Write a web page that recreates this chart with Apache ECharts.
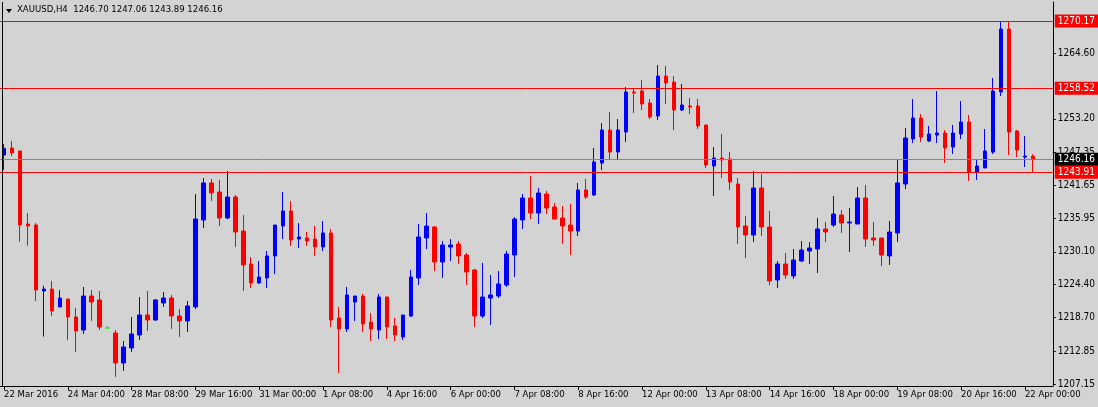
<!DOCTYPE html>
<html>
<head>
<meta charset="utf-8">
<script src="https://cdn.jsdelivr.net/npm/echarts@6/dist/echarts.min.js"></script>
<style>
html,body{margin:0;padding:0;background:#d3d3d3;}
#c{width:1098px;height:407px;}
</style>
</head>
<body>
<div id="c"></div>
<script>
const symbolName = 'XAUUSD,H4';
const tickLabels = ['22 Mar 2016','24 Mar 04:00','28 Mar 08:00','29 Mar 16:00','31 Mar 00:00','1 Apr 08:00','4 Apr 16:00','6 Apr 00:00','7 Apr 08:00','8 Apr 16:00','12 Apr 00:00','13 Apr 08:00','14 Apr 16:00','18 Apr 00:00','19 Apr 08:00','20 Apr 16:00','22 Apr 00:00'];
const priceTicks = [1264.60,1253.20,1247.35,1241.65,1235.95,1230.10,1224.40,1218.70,1212.85,1207.15];
const levelLines = [1270.17,1258.52,1243.91];

const opens = [1246.91,1248.13,1247.61,1234.94,1234.76,1223.31,1223.65,1220.54,1221.92,1218.80,
1216.54,1222.44,1221.75,1216.89,1216.02,1210.81,1213.42,1215.67,1219.14,1218.28,
1221.23,1222.09,1218.97,1218.11,1220.54,1235.63,1242.06,1240.49,1235.98,1239.62,
1233.72,1228.00,1224.70,1225.57,1229.39,1234.59,1237.20,1232.33,1232.51,1232.33,
1230.95,1233.38,1218.62,1216.71,1221.40,1222.44,1217.93,1216.54,1222.27,1217.24,
1215.33,1218.97,1225.57,1232.51,1234.42,1228.34,1230.95,1231.47,1229.56,1226.96,
1218.97,1222.09,1222.44,1224.35,1229.56,1235.63,1239.45,1236.85,1240.14,1237.89,
1235.98,1234.76,1233.72,1240.84,1239.97,1245.52,1251.25,1247.43,1250.90,1257.85,
1258.02,1255.94,1253.68,1260.62,1259.58,1254.72,1255.42,1255.42,1252.12,1245.00,
1246.39,1246.22,1241.88,1234.59,1233.03,1241.19,1234.42,1225.22,1228.00,1225.92,
1228.52,1230.25,1230.60,1234.07,1234.76,1236.50,1235.11,1234.94,1239.45,1232.51,
1232.51,1229.39,1233.38,1241.88,1249.69,1253.34,1249.35,1250.38,1250.73,1248.30,
1250.56,1252.64,1243.96,1244.66,1247.43,1257.85,1268.78,1251.08,1246.57,1246.70];

const closes = [1248.08,1247.26,1234.76,1234.59,1223.48,1223.65,1219.84,1222.09,1218.80,1216.37,
1222.44,1221.40,1217.06,1216.89,1210.81,1213.59,1215.85,1219.14,1218.28,1221.75,
1222.09,1218.97,1218.11,1220.71,1235.80,1242.06,1240.32,1235.98,1239.62,1233.55,
1227.82,1224.70,1225.74,1229.39,1234.76,1237.20,1232.16,1232.68,1231.99,1230.95,
1233.38,1218.28,1216.71,1222.62,1222.44,1217.58,1216.71,1222.27,1217.06,1215.67,
1219.14,1225.74,1232.68,1234.59,1228.34,1231.29,1231.29,1229.39,1226.61,1218.97,
1222.27,1222.62,1224.53,1229.73,1235.80,1239.45,1236.85,1240.32,1237.72,1235.80,
1234.59,1233.72,1240.84,1239.62,1245.70,1251.25,1247.43,1251.25,1257.85,1257.68,
1255.77,1253.51,1260.62,1259.41,1254.72,1255.59,1255.24,1251.95,1245.18,1246.39,
1246.05,1242.23,1234.42,1233.03,1241.19,1234.42,1225.05,1228.00,1226.09,1228.69,
1230.43,1230.77,1234.07,1233.55,1236.67,1235.11,1235.28,1239.45,1232.33,1232.16,
1229.56,1233.55,1242.06,1249.86,1253.34,1250.04,1250.56,1250.73,1248.13,1250.73,
1252.64,1243.96,1245.00,1247.61,1258.02,1268.78,1250.90,1247.78,1246.74,1246.16];

const lows = [1244.31,1246.74,1231.87,1231.17,1221.57,1215.38,1218.97,1220.54,1214.81,1212.72,
1215.85,1218.11,1216.54,1216.71,1208.39,1209.43,1212.72,1214.81,1216.37,1218.11,
1220.54,1216.71,1215.33,1216.19,1220.19,1234.24,1238.93,1234.59,1235.80,1230.95,
1223.31,1223.83,1224.53,1223.83,1226.26,1232.33,1231.12,1230.77,1231.12,1229.39,
1230.25,1217.06,1209.08,1216.19,1218.11,1216.19,1214.63,1214.98,1214.98,1214.63,
1214.81,1218.80,1224.35,1230.60,1226.78,1225.57,1228.52,1228.00,1224.35,1217.06,
1218.62,1217.41,1222.09,1224.01,1225.74,1234.07,1235.80,1234.94,1236.67,1235.80,
1231.47,1229.56,1232.85,1239.28,1239.80,1244.31,1246.05,1246.22,1249.17,1254.20,
1254.72,1253.16,1252.99,1255.77,1251.25,1254.55,1254.03,1251.43,1244.66,1239.80,
1242.92,1240.84,1231.47,1229.04,1231.81,1232.85,1224.35,1223.83,1225.40,1225.40,
1228.34,1228.00,1226.43,1231.81,1234.42,1233.38,1230.08,1234.94,1230.95,1231.12,
1227.65,1227.82,1231.81,1241.01,1248.99,1249.17,1249.17,1248.99,1245.52,1247.09,
1249.69,1242.40,1242.58,1244.66,1247.09,1257.15,1246.91,1246.57,1244.83,1243.89];

const highs = [1248.83,1249.35,1247.61,1236.85,1235.11,1224.23,1225.05,1223.48,1221.92,1220.36,
1224.01,1223.48,1223.31,1217.24,1216.54,1214.63,1218.80,1222.27,1223.31,1221.92,
1223.14,1222.62,1220.19,1221.57,1240.14,1242.92,1242.75,1242.58,1244.14,1239.97,
1236.50,1229.21,1228.52,1230.25,1234.76,1240.49,1238.93,1235.11,1233.55,1234.59,
1235.46,1234.07,1220.54,1224.01,1222.44,1222.79,1219.49,1222.79,1222.27,1218.62,
1219.14,1226.96,1234.94,1236.85,1234.59,1231.99,1232.33,1231.99,1229.91,1227.13,
1228.17,1226.09,1226.78,1230.25,1236.15,1240.14,1243.27,1241.19,1240.67,1238.58,
1238.06,1238.41,1242.06,1242.75,1248.13,1252.47,1254.38,1253.16,1258.71,1258.37,
1259.93,1256.63,1262.53,1262.36,1260.62,1259.24,1256.81,1256.63,1252.12,1248.30,
1250.56,1247.43,1242.92,1236.32,1244.14,1243.62,1237.20,1228.52,1229.91,1230.60,
1231.99,1231.81,1235.98,1235.28,1239.80,1237.37,1237.72,1241.36,1241.71,1235.28,
1232.51,1235.46,1246.22,1251.60,1256.63,1254.03,1251.95,1258.02,1251.25,1252.12,
1256.28,1253.86,1246.22,1251.43,1260.28,1270.10,1270.17,1251.25,1250.21,1247.06];

const N_SLOTS = 132;
const BARS_PER_LABEL = 8;
const categories = [];
for (let i = 0; i < N_SLOTS; i++) categories.push(String(i));

const candleData = opens.map((o, i) => {
  const item = { value: [o, closes[i], lows[i], highs[i]] };
  if (o === closes[i]) {
    item.itemStyle = { color: '#00ff00', color0: '#00ff00', borderColor: '#00ff00', borderColor0: '#00ff00' };
  }
  return item;
});
const last = opens.length - 1;
const bid = closes[last];
const headerText = symbolName + '  ' + [opens[last], highs[last], lows[last], closes[last]].map(v => v.toFixed(2)).join(' ');

const FONT = "Tahoma, 'DejaVu Sans Condensed', 'Liberation Sans', sans-serif";

const chart = echarts.init(document.getElementById('c'), null, { renderer: 'canvas' });
chart.setOption({
  animation: false,
  backgroundColor: '#d3d3d3',
  textStyle: { fontFamily: FONT },
  grid: { left: 0, right: 43, top: 2, bottom: 21, containLabel: false },
  xAxis: {
    type: 'category',
    data: categories,
    boundaryGap: true,
    axisLine: { show: true, lineStyle: { color: '#000', width: 1 } },
    axisTick: { show: true, alignWithLabel: true, length: 4, lineStyle: { color: '#000' },
      interval: (idx) => idx % BARS_PER_LABEL === 0 },
    axisLabel: { show: true, interval: (idx) => idx % BARS_PER_LABEL === 0, align: 'left', margin: 4,
      color: '#000', fontSize: 9.5, fontFamily: FONT,
      formatter: (v, idx) => (idx % BARS_PER_LABEL === 0 && tickLabels[idx / BARS_PER_LABEL]) ? tickLabels[idx / BARS_PER_LABEL] : '' },
    splitLine: { show: false }
  },
  yAxis: {
    type: 'value',
    position: 'right',
    min: 1206.82,
    max: 1273.47,
    axisLine: { show: true, lineStyle: { color: '#000', width: 1 } },
    axisTick: { show: true, length: 3, lineStyle: { color: '#000' }, customValues: priceTicks },
    axisLabel: { show: true, margin: 5, color: '#000', fontSize: 10, fontFamily: FONT,
      customValues: priceTicks, formatter: (v) => Number(v).toFixed(2) },
    splitLine: { show: false }
  },
  series: [{
    type: 'candlestick',
    data: candleData,
    barWidth: 4,
    itemStyle: { color: '#0000ff', color0: '#ff0000', borderColor: '#0000ff', borderColor0: '#ff0000', borderWidth: 1 },
    markLine: {
      silent: true,
      symbol: ['none', 'none'],
      animation: false,
      data: levelLines.map(v => ({
        yAxis: v,
        lineStyle: { color: '#ff0000', width: 1, type: 'solid' },
        label: { show: true, position: 'end', distance: 2, formatter: v.toFixed(2), color: '#fff',
          backgroundColor: '#ff0000', padding: [2, 3, 1, 3], fontSize: 10, fontFamily: FONT }
      })).concat([{
        yAxis: bid,
        lineStyle: { color: '#778899', width: 1, type: 'solid' },
        label: { show: true, position: 'end', distance: 2, formatter: bid.toFixed(2), color: '#fff',
          backgroundColor: '#000', padding: [2, 3, 1, 3], fontSize: 10, fontFamily: FONT }
      }])
    }
  }],
  graphic: [
    { type: 'line', shape: { x1: 2.5, y1: 2, x2: 2.5, y2: 386 }, style: { stroke: '#000', lineWidth: 1 }, z: 100 },
    { type: 'polygon', shape: { points: [[6, 9], [12, 9], [9, 13]] }, style: { fill: '#000' }, z: 100 },
    { type: 'text', left: 17, top: 5, style: { text: headerText, fill: '#000', font: '9.5px ' + FONT }, z: 100 }
  ]
});
</script>
</body>
</html>
